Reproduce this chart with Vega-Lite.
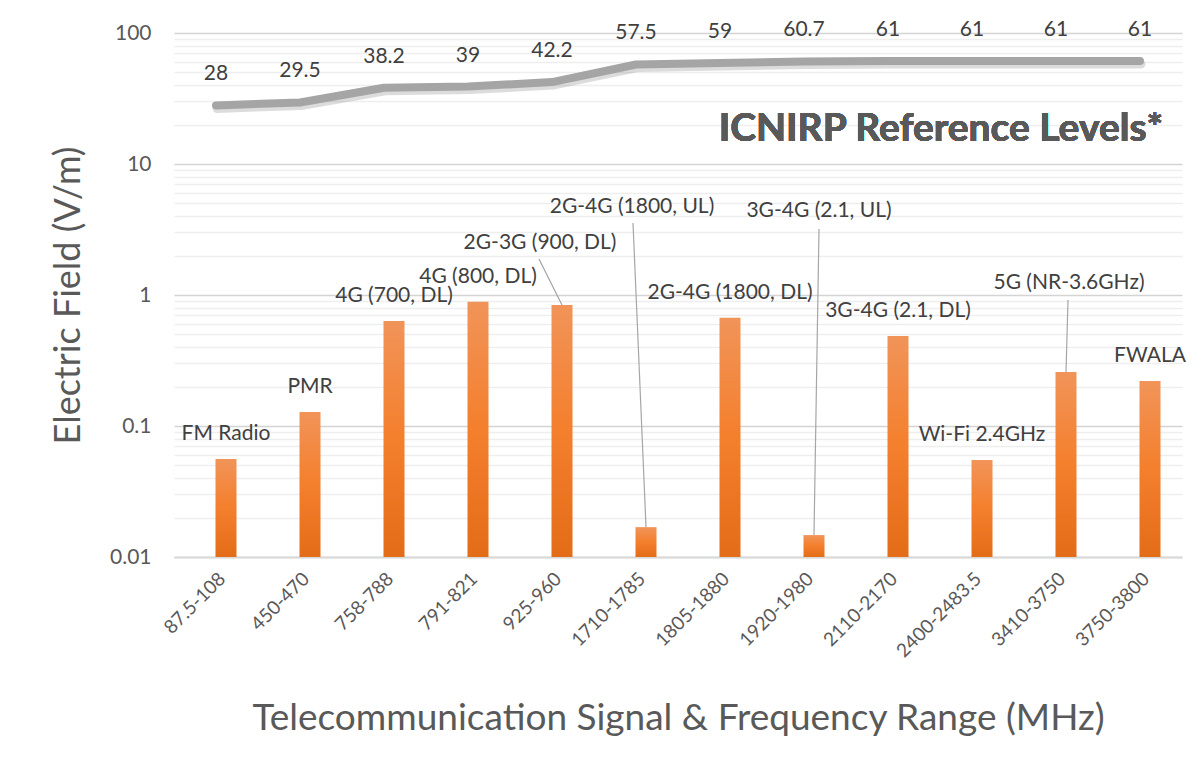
{
  "$schema": "https://vega.github.io/schema/vega-lite/v6.json",
  "autosize": {"type": "none"},
  "width": 1008,
  "height": 524,
  "padding": {"left": 174, "top": 33, "right": 21, "bottom": 207},
  "background": "white",
  "config": {
    "view": {"stroke": null},
    "font": "Lato",
    "text": {"font": "Lato"}
  },
  "data": {
    "values": [
      {"range": "87.5-108", "label": "FM Radio", "value": 0.056, "ref": 28},
      {"range": "450-470", "label": "PMR", "value": 0.128, "ref": 29.5},
      {"range": "758-788", "label": "4G (700, DL)", "value": 0.634, "ref": 38.2},
      {"range": "791-821", "label": "4G (800, DL)", "value": 0.889, "ref": 39},
      {"range": "925-960", "label": "2G-3G (900, DL)", "value": 0.839, "ref": 42.2},
      {"range": "1710-1785", "label": "2G-4G (1800, UL)", "value": 0.0169, "ref": 57.5},
      {"range": "1805-1880", "label": "2G-4G (1800, DL)", "value": 0.671, "ref": 59},
      {"range": "1920-1980", "label": "3G-4G (2.1, UL)", "value": 0.0147, "ref": 60.7},
      {"range": "2110-2170", "label": "3G-4G (2.1, DL)", "value": 0.486, "ref": 61},
      {"range": "2400-2483.5", "label": "Wi-Fi 2.4GHz", "value": 0.055, "ref": 61},
      {"range": "3410-3750", "label": "5G (NR-3.6GHz)", "value": 0.258, "ref": 61},
      {"range": "3750-3800", "label": "FWALA", "value": 0.221, "ref": 61}
    ]
  },
  "encoding": {
    "x": {
      "field": "range",
      "type": "nominal",
      "sort": null,
      "scale": {"paddingInner": 0, "paddingOuter": 0},
      "axis": {
        "title": "Telecommunication Signal & Frequency Range (MHz)",
        "titleFont": "Lato",
        "titleFontSize": 37,
        "titleFontWeight": "normal",
        "titleColor": "#595959",
        "titlePadding": 40,
        "labelAngle": -45,
        "labelFont": "Lato",
        "labelFontSize": 19,
        "labelColor": "#595959",
        "labelPadding": 12,
        "ticks": false,
        "domain": true,
        "domainColor": "#d9d9d9",
        "domainWidth": 2,
        "grid": false
      }
    }
  },
  "layer": [
    {
      "mark": {
        "type": "bar",
        "width": 21,
        "xOffset": 10,
        "stroke": null,
        "fill": {
          "gradient": "linear",
          "x1": 0, "y1": 0, "x2": 0, "y2": 1,
          "stops": [
            {"offset": 0, "color": "#f19459"},
            {"offset": 0.5, "color": "#f47f2c"},
            {"offset": 1, "color": "#e36c18"}
          ]
        }
      },
      "encoding": {
        "y": {
          "field": "value",
          "type": "quantitative",
          "scale": {"type": "log", "domain": [0.01, 100], "nice": false},
          "axis": {
            "title": "Electric Field (V/m)",
            "titleFont": "Lato",
            "titleFontSize": 36,
            "titleFontWeight": "normal",
            "titleColor": "#595959",
            "titlePadding": 22,
            "values": [0.01, 0.02, 0.03, 0.04, 0.05, 0.06, 0.07, 0.08, 0.09, 0.1, 0.2, 0.3, 0.4, 0.5, 0.6, 0.7, 0.8, 0.9, 1, 2, 3, 4, 5, 6, 7, 8, 9, 10, 20, 30, 40, 50, 60, 70, 80, 90, 100],
            "labelExpr": "abs(log(datum.value)/LN10 - round(log(datum.value)/LN10)) < 0.000001 ? format(datum.value, '~g') : ''",
            "labelFont": "Lato",
            "labelFontSize": 21,
            "labelColor": "#595959",
            "labelPadding": 23,
            "ticks": false,
            "domain": false,
            "grid": true,
            "gridColor": {
              "condition": {"test": "abs(log(datum.value)/LN10 - round(log(datum.value)/LN10)) < 0.000001", "value": "#d4d4d4"},
              "value": "#eeeeee"
            },
            "gridWidth": 1.5
          }
        },
        "y2": {"datum": 0.01}
      }
    },
    {
      "transform": [{"filter": "indexof(['925-960','1710-1785','1920-1980','3410-3750'], datum.range) < 0"}],
      "mark": {"type": "text", "xOffset": 10, "dy": -25, "fontSize": 21, "color": "#404040", "baseline": "middle", "align": "center"},
      "encoding": {
        "y": {"field": "value", "type": "quantitative"},
        "text": {"field": "label"}
      }
    },
    {
      "transform": [{"filter": "datum.range === '925-960'"}],
      "mark": {"type": "rule", "color": "#a6a6a6", "strokeWidth": 1.2, "xOffset": 10, "x2Offset": -13},
      "encoding": {
        "x2": {"field": "range"},
        "y": {"field": "value", "type": "quantitative"},
        "y2": {"datum": 1.88}
      }
    },
    {
      "transform": [{"filter": "datum.range === '925-960'"}],
      "mark": {"type": "text", "dx": -12, "fontSize": 21, "color": "#404040", "baseline": "middle", "align": "center"},
      "encoding": {"y": {"datum": 2.49}, "text": {"field": "label"}}
    },
    {
      "transform": [{"filter": "datum.range === '1710-1785'"}],
      "mark": {"type": "rule", "color": "#a6a6a6", "strokeWidth": 1.2, "xOffset": 10, "x2Offset": -3},
      "encoding": {
        "x2": {"field": "range"},
        "y": {"field": "value", "type": "quantitative"},
        "y2": {"datum": 3.55}
      }
    },
    {
      "transform": [{"filter": "datum.range === '1710-1785'"}],
      "mark": {"type": "text", "dx": -4, "fontSize": 21, "color": "#404040", "baseline": "middle", "align": "center"},
      "encoding": {"y": {"datum": 4.7}, "text": {"field": "label"}}
    },
    {
      "transform": [{"filter": "datum.range === '1920-1980'"}],
      "mark": {"type": "rule", "color": "#a6a6a6", "strokeWidth": 1.2, "xOffset": 10, "x2Offset": 15},
      "encoding": {
        "x2": {"field": "range"},
        "y": {"field": "value", "type": "quantitative"},
        "y2": {"datum": 3.19}
      }
    },
    {
      "transform": [{"filter": "datum.range === '1920-1980'"}],
      "mark": {"type": "text", "dx": 15, "fontSize": 21, "color": "#404040", "baseline": "middle", "align": "center"},
      "encoding": {"y": {"datum": 4.38}, "text": {"field": "label"}}
    },
    {
      "transform": [{"filter": "datum.range === '3410-3750'"}],
      "mark": {"type": "rule", "color": "#a6a6a6", "strokeWidth": 1.2, "xOffset": 10, "x2Offset": 12},
      "encoding": {
        "x2": {"field": "range"},
        "y": {"field": "value", "type": "quantitative"},
        "y2": {"datum": 0.916}
      }
    },
    {
      "transform": [{"filter": "datum.range === '3410-3750'"}],
      "mark": {"type": "text", "dx": 13, "fontSize": 21, "color": "#404040", "baseline": "middle", "align": "center"},
      "encoding": {"y": {"datum": 1.236}, "text": {"field": "label"}}
    },
    {
      "mark": {"type": "line", "color": "#8c8c8c", "opacity": 0.3, "strokeWidth": 9, "strokeCap": "round", "strokeJoin": "round", "yOffset": 3, "xOffset": 1},
      "encoding": {"y": {"field": "ref", "type": "quantitative"}}
    },
    {
      "mark": {"type": "line", "color": "#a5a5a5", "strokeWidth": 8, "strokeCap": "round", "strokeJoin": "round"},
      "encoding": {"y": {"field": "ref", "type": "quantitative"}}
    },
    {
      "mark": {"type": "text", "dy": -31, "fontSize": 21, "color": "#404040", "baseline": "middle", "align": "center"},
      "encoding": {"y": {"field": "ref", "type": "quantitative"}, "text": {"field": "ref", "type": "quantitative", "format": "~g"}}
    },
    {
      "mark": {"type": "text", "fontSize": 39, "fontWeight": "bold", "color": "#595959", "align": "right", "baseline": "middle", "dx": 23, "dy": 2},
      "encoding": {"x": {"datum": "3750-3800"}, "y": {"datum": 19}, "text": {"value": "ICNIRP Reference Levels*"}}
    }
  ]
}
